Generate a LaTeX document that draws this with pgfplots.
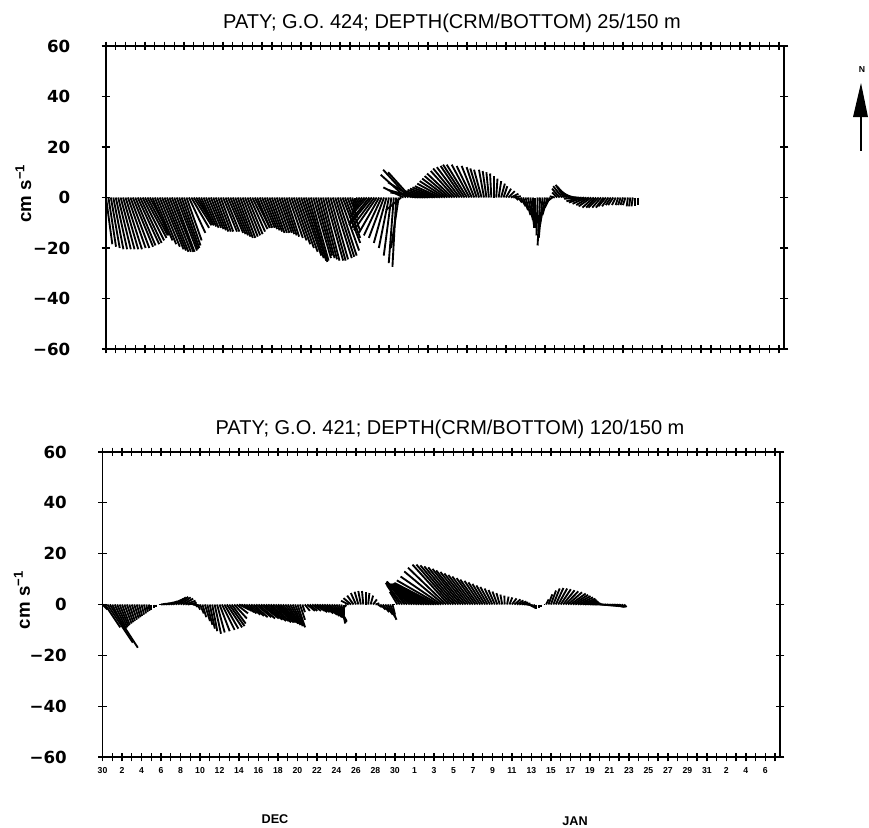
\documentclass[border=0pt]{standalone}
\usepackage{fontspec}
\setmainfont{Liberation Sans}
\newfontfamily\dvs{DejaVu Sans}
\usepackage{pgfplots}
\pgfplotsset{compat=1.18}
\usepackage{pgfplotstable}

\pgfplotstableread{
t u v
0.00 2.5 -18.5
0.25 3.0 -19.5
0.50 3.5 -20.0
0.75 4.0 -20.5
1.00 4.5 -20.5
1.25 5.0 -20.5
1.50 5.5 -20.5
1.75 6.0 -20.5
2.00 6.5 -20.5
2.25 7.0 -20.0
2.50 7.5 -20.0
2.75 8.0 -19.5
3.00 8.0 -19.0
3.25 8.5 -18.5
3.50 8.5 -18.0
3.75 8.5 -17.0
4.00 8.5 -16.0
4.25 8.0 -15.0
4.50 7.0 -13.0
4.75 6.5 -15.0
5.00 7.0 -17.0
5.25 7.5 -18.5
5.50 8.0 -19.5
5.75 8.5 -20.5
6.00 8.5 -21.0
6.25 8.5 -21.5
6.50 8.5 -21.5
6.75 8.5 -21.5
7.00 8.0 -21.5
7.25 8.0 -21.0
7.50 7.5 -20.5
7.75 7.0 -20.0
8.00 6.5 -19.0
8.25 6.0 -17.0
8.50 6.5 -14.0
8.75 7.0 -12.0
9.00 7.0 -11.0
9.25 6.5 -10.5
9.50 6.0 -11.0
9.75 5.0 -11.0
10.00 5.0 -11.5
10.25 5.0 -12.0
10.50 5.0 -12.0
10.75 5.0 -12.5
11.00 5.0 -13.0
11.25 5.0 -13.5
11.50 5.0 -13.5
11.75 5.0 -13.5
12.00 5.5 -13.5
12.25 5.5 -13.5
12.50 6.0 -14.0
12.75 6.0 -14.5
13.00 6.0 -15.0
13.25 6.0 -15.5
13.50 6.0 -16.0
13.75 6.0 -16.0
14.00 6.0 -15.5
14.25 6.0 -15.0
14.50 6.0 -14.5
14.75 6.0 -13.5
15.00 6.0 -12.5
15.25 6.0 -12.0
15.50 5.0 -12.0
15.75 5.0 -12.0
16.00 5.0 -12.0
16.25 5.0 -12.5
16.50 5.0 -13.0
16.75 5.0 -13.5
17.00 5.0 -14.0
17.25 5.0 -14.0
17.50 5.0 -14.0
17.75 5.0 -14.0
18.00 5.0 -14.5
18.25 5.0 -15.0
18.50 5.0 -15.5
18.75 5.5 -16.0
19.00 6.0 -17.0
19.25 6.5 -18.5
19.50 7.0 -20.0
19.75 7.5 -21.5
20.00 8.0 -23.0
20.25 8.0 -24.0
20.50 8.0 -25.0
20.75 7.5 -25.5
21.00 7.0 -25.0
21.25 7.0 -24.0
21.50 6.5 -23.0
21.75 6.5 -24.0
22.00 6.5 -24.5
22.25 6.5 -25.0
22.50 7.0 -25.0
22.75 7.0 -25.0
23.00 7.0 -24.5
23.25 7.5 -24.0
23.50 7.5 -23.5
23.75 7.5 -23.0
24.00 7.5 -21.0
24.25 7.0 -18.0
24.50 6.0 -16.0
24.75 5.0 -13.0
25.00 3.0 -8.0
25.25 1.0 -4.0
25.50 0.0 -2.0
25.75 -1.0 -2.0
26.00 -2.0 -3.0
26.25 -3.0 -4.0
26.50 -5.0 -6.0
26.75 -7.0 -8.0
27.00 -8.0 -10.0
27.25 -9.0 -11.0
27.50 -9.0 -12.0
27.75 -9.0 -13.0
28.00 -8.0 -14.0
28.25 -7.0 -15.0
28.50 -6.0 -16.0
28.75 -5.0 -18.0
29.00 -4.0 -20.0
29.25 -3.0 -23.0
29.50 -2.0 -26.0
29.75 -1.5 -27.5
30.00 -3.0 -20.0
30.25 -6.0 -5.0
30.50 -8.0 4.0
30.75 -10.0 9.0
31.00 -10.0 11.0
31.25 -9.0 10.0
31.50 -10.0 6.0
31.75 -11.0 3.0
32.00 -11.0 2.0
32.25 -11.0 2.0
32.50 -10.0 1.5
32.75 -10.0 1.5
33.00 -10.0 2.0
33.25 -10.0 2.5
33.50 -10.0 3.0
33.75 -10.0 3.5
34.00 -10.0 4.0
34.25 -10.0 4.5
34.50 -10.0 5.5
34.75 -10.0 6.5
35.00 -10.0 7.5
35.25 -10.0 8.5
35.50 -10.0 9.5
35.75 -9.5 10.5
36.00 -9.5 11.5
36.25 -9.0 12.0
36.50 -8.5 12.5
36.75 -8.5 13.0
37.00 -8.0 13.0
37.25 -7.0 13.0
37.50 -6.0 12.5
37.75 -5.0 12.5
38.00 -4.0 12.0
38.25 -3.5 11.5
38.50 -3.0 11.0
38.75 -2.0 11.0
39.00 -1.5 10.5
39.25 -1.0 10.0
39.50 -0.5 9.5
39.75 0.0 8.5
40.00 0.5 7.5
40.25 1.0 6.5
40.50 1.5 5.5
40.75 1.5 4.5
41.00 2.0 3.5
41.25 2.5 2.5
41.50 3.0 1.5
41.75 3.0 0.5
42.00 1.0 -1.0
42.25 1.5 -2.0
42.50 2.0 -3.5
42.75 2.0 -5.0
43.00 2.0 -7.0
43.25 2.0 -9.0
43.50 1.5 -11.0
43.75 0.5 -12.0
44.00 0.0 -12.0
44.25 -0.5 -15.0
44.50 -1.0 -19.0
44.75 -1.5 -16.0
45.00 -2.0 -11.0
45.25 -2.0 -7.0
45.50 -2.0 -4.0
45.75 -2.0 -1.5
46.00 -2.0 0.5
46.25 -2.0 2.0
46.50 -3.0 3.5
46.75 -3.5 4.5
47.00 -3.5 5.0
47.25 -4.0 4.5
47.50 -4.5 3.5
47.75 -5.0 2.5
48.00 -5.5 1.5
48.25 -6.0 0.5
48.50 -6.0 -0.5
48.75 -6.0 -1.5
49.00 -6.0 -2.0
49.25 -5.5 -2.5
49.50 -5.0 -3.0
49.75 -5.0 -3.5
50.00 -4.5 -4.0
50.25 -4.0 -4.0
50.50 -4.0 -4.0
50.75 -3.5 -4.0
51.00 -3.0 -4.0
51.25 -3.0 -3.5
51.50 -2.5 -3.5
51.75 -2.0 -3.0
52.00 -2.0 -3.0
52.25 -1.5 -3.0
52.50 -1.0 -3.0
52.75 -1.0 -3.0
53.00 -1.0 -3.0
53.25 -1.0 -3.0
53.50 -0.5 -3.5
53.75 -0.5 -3.5
54.00 -0.5 -3.5
54.25 0.0 -3.5
54.50 0.0 -3.0
}\topdata

\pgfplotstableread{
t u v
0.00 2.0 -2.0
0.25 6.0 -9.0
0.50 10.0 -15.0
0.75 11.0 -17.0
1.00 5.0 -10.0
1.25 4.5 -9.5
1.50 4.0 -9.0
1.75 3.5 -8.5
2.00 3.0 -8.0
2.25 2.8 -7.5
2.50 2.5 -7.0
2.75 2.2 -6.5
3.00 2.0 -6.0
3.25 1.8 -5.5
3.50 1.5 -5.0
3.75 1.2 -4.5
4.00 1.0 -4.0
4.25 0.8 -3.5
4.50 0.5 -3.0
4.75 0.2 -2.5
5.00 0.0 -2.0
5.25 0.0 -1.5
5.50 0.0 -1.0
5.75 1.0 0.0
6.00 2.0 0.3
6.25 2.5 0.5
6.50 3.0 0.8
6.75 3.5 1.2
7.00 4.0 1.7
7.25 4.0 2.2
7.50 4.0 2.8
7.75 4.0 3.0
8.00 4.0 2.8
8.25 4.0 2.3
8.50 4.0 1.5
8.75 3.5 0.7
9.00 3.0 0.0
9.25 3.0 -0.5
9.50 1.0 -1.0
9.75 1.0 -2.0
10.00 1.5 -3.5
10.25 1.5 -5.0
10.50 2.0 -6.5
10.75 2.0 -8.0
11.00 2.0 -9.5
11.25 2.0 -10.5
11.50 2.5 -11.5
11.75 3.0 -11.0
12.00 4.0 -10.5
12.25 5.0 -10.0
12.50 5.5 -9.5
12.75 6.0 -9.0
13.00 6.0 -8.5
13.25 5.5 -7.5
13.50 5.0 -5.5
13.75 4.5 -3.5
14.00 4.0 -2.0
14.25 4.0 -2.5
14.50 4.0 -3.0
14.75 4.0 -3.5
15.00 4.5 -4.0
15.25 5.0 -4.5
15.50 5.5 -5.0
15.75 6.0 -5.0
16.00 6.5 -5.5
16.25 7.0 -5.5
16.50 7.5 -6.0
16.75 8.0 -6.5
17.00 8.0 -6.5
17.25 8.0 -7.0
17.50 8.0 -7.0
17.75 7.5 -7.0
18.00 7.0 -7.0
18.25 6.5 -7.0
18.50 6.0 -7.5
18.75 5.5 -7.5
19.00 5.0 -8.0
19.25 4.5 -8.0
19.50 4.0 -8.5
19.75 3.5 -8.5
20.00 3.0 -9.0
20.25 2.0 -6.0
20.50 1.0 -3.0
20.75 2.0 -2.5
21.00 3.0 -2.5
21.25 3.0 -2.5
21.50 3.5 -2.5
21.75 4.0 -2.5
22.00 4.0 -3.0
22.25 4.0 -3.0
22.50 4.5 -3.5
22.75 5.0 -4.0
23.00 5.0 -4.5
23.25 5.0 -5.0
23.50 5.0 -5.5
23.75 4.5 -6.0
24.00 4.0 -6.5
24.25 3.0 -7.0
24.50 1.5 -7.5
24.75 0.0 -4.0
25.00 -0.5 -1.0
25.25 -3.0 1.5
25.50 -3.0 2.5
25.75 -2.5 3.5
26.00 -2.0 4.5
26.25 -1.5 5.0
26.50 -1.0 5.3
26.75 -0.5 5.3
27.00 0.0 5.0
27.25 0.5 4.5
27.50 1.0 3.5
27.75 1.5 2.0
28.00 1.5 0.5
28.25 1.5 -1.0
28.50 2.0 -2.0
28.75 2.5 -3.0
29.00 3.0 -4.0
29.25 3.0 -5.0
29.50 2.5 -6.0
29.75 1.0 -4.0
30.00 -1.0 0.0
30.25 -3.0 5.0
30.50 -5.0 7.5
30.75 -6.5 8.5
31.00 -7.0 9.0
31.25 -8.0 9.0
31.50 -9.0 9.0
31.75 -10.0 8.8
32.00 -11.0 8.5
32.25 -12.0 8.3
32.50 -13.0 8.0
32.75 -13.5 8.0
33.00 -14.0 8.0
33.25 -14.5 8.0
33.50 -15.0 8.0
33.75 -15.5 8.0
34.00 -16.0 8.2
34.25 -16.5 8.5
34.50 -16.5 9.5
34.75 -16.0 11.0
35.00 -15.5 13.0
35.25 -15.0 14.5
35.50 -14.2 15.7
35.75 -13.6 15.7
36.00 -13.0 15.4
36.25 -12.4 15.0
36.50 -11.8 14.6
36.75 -11.1 14.0
37.00 -10.6 13.4
37.25 -9.9 12.8
37.50 -9.3 12.2
37.75 -8.7 11.6
38.00 -8.1 11.0
38.25 -7.4 10.4
38.50 -6.9 9.8
38.75 -6.2 9.3
39.00 -5.6 8.7
39.25 -5.0 8.1
39.50 -4.4 7.5
39.75 -3.8 6.9
40.00 -3.1 6.3
40.25 -2.5 5.7
40.50 -1.9 5.1
40.75 -1.3 4.5
41.00 -0.7 3.9
41.25 -0.1 3.5
41.50 0.6 3.1
41.75 1.1 2.8
42.00 1.8 2.4
42.25 2.4 2.0
42.50 2.6 1.6
42.75 2.8 1.2
43.00 2.6 0.8
43.25 2.5 0.4
43.50 2.0 -0.3
43.75 1.5 -0.8
44.00 1.0 -1.2
44.25 0.5 -1.5
44.50 0.0 -1.7
44.75 0.0 -1.5
45.00 0.0 -1.0
45.25 0.5 0.0
45.50 1.0 2.0
45.75 1.5 4.0
46.00 2.0 5.5
46.25 2.5 6.3
46.50 3.0 6.5
46.75 3.5 6.3
47.00 4.0 6.0
47.25 4.5 5.6
47.50 5.0 5.2
47.75 5.5 4.8
48.00 6.0 4.3
48.25 6.0 3.8
48.50 6.0 3.3
48.75 6.0 2.8
49.00 6.0 2.3
49.25 5.5 1.8
49.50 5.0 1.3
49.75 4.5 0.9
50.00 4.0 0.5
50.25 3.5 0.3
50.50 3.0 0.1
50.75 3.0 0.0
51.00 3.0 -0.2
51.25 3.0 -0.3
51.50 3.0 -0.4
51.75 3.0 -0.5
52.00 3.0 -0.6
52.25 3.0 -0.7
52.50 3.0 -0.8
52.75 2.5 -0.9
53.00 2.0 -1.0
53.25 1.5 -1.0
53.50 1.0 -1.0
}\botdata

\pgfplotsset{stickax/.style={
  scale only axis, anchor=south west,
  xmin=0, xmax=69.5, ymin=-60, ymax=60,
  axis line style={line width=1.2pt},
  tick style={black, line width=1pt},
  tick align=center,
  major tick length=6.5pt, minor tick length=6.5pt,
  xtick={0,2,...,68}, minor xtick={1,3,...,69},
  ytick={-60,-40,-20,0,20,40,60},
  yticklabels={−60,−40,−20,0,20,40,60},
  yticklabel style={font=\dvs\bfseries\fontsize{12.5}{12.5}\selectfont, anchor=east, xshift=-20pt},
}}

\begin{document}
\begin{tikzpicture}
\useasboundingbox (0,0) rectangle (651.75pt,-621pt);

\begin{axis}[stickax, at={(79.5pt,-261.75pt)}, width=508.5pt, height=227.25pt, xticklabels={}]
\addplot[black, line width=1.4pt, quiver={u=\thisrow{u}*0.259, v=\thisrow{v}}] table[x=t, y expr=0] {\topdata};
\end{axis}

\begin{axis}[stickax, at={(76.9pt,-567.75pt)}, width=508.1pt, height=228.75pt,
  xticklabels={30,2,4,6,8,10,12,14,16,18,20,22,24,26,28,30,1,3,5,7,9,11,13,15,17,19,21,23,25,27,29,31,2,4,6},
  xticklabel style={font=\bfseries\fontsize{6.5}{6.5}\selectfont, yshift=-1pt}]
\addplot[black, line width=1.4pt, quiver={u=\thisrow{u}*0.261, v=\thisrow{v}}] table[x=t, y expr=0] {\botdata};
\end{axis}

\node[anchor=base, font=\fontsize{15}{15}\selectfont] at (339pt,-21pt) {PATY; G.O. 424; DEPTH(CRM/BOTTOM) 25/150 m};
\node[anchor=base, font=\fontsize{15}{15}\selectfont] at (337.5pt,-325.5pt) {PATY; G.O. 421; DEPTH(CRM/BOTTOM) 120/150 m};

\node[rotate=90, font=\bfseries\fontsize{14}{14}\selectfont] at (17.5pt,-145pt) {cm s\textsuperscript{−1}};
\node[rotate=90, font=\bfseries\fontsize{14}{14}\selectfont] at (16.5pt,-450pt) {cm s\textsuperscript{−1}};

\node[font=\bfseries\fontsize{9.5}{9.5}\selectfont] at (206.25pt,-614.5pt) {DEC};
\node[font=\bfseries\fontsize{9.5}{9.5}\selectfont] at (431.25pt,-616pt) {JAN};

\node[font=\bfseries\fontsize{6.5}{6.5}\selectfont] at (646.5pt,-52.5pt) {N};
\fill (645.75pt,-62.25pt) -- (639.75pt,-87.75pt) -- (651pt,-87.75pt) -- cycle;
\draw[line width=0.9pt] (645.75pt,-87.75pt) -- (645.75pt,-113.25pt);
\end{tikzpicture}
\end{document}
